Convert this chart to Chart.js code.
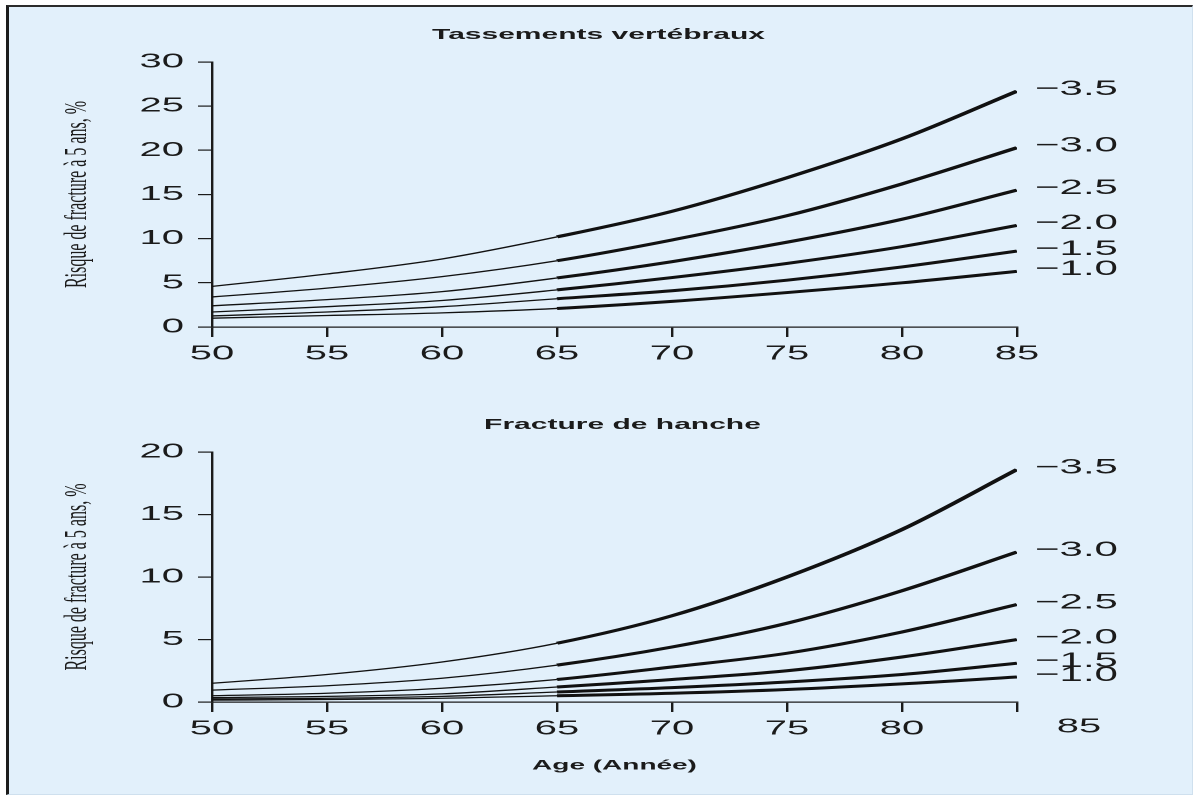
<!DOCTYPE html>
<html lang="fr">
<head>
<meta charset="utf-8">
<title>Risque de fracture à 5 ans</title>
<script src="https://cdn.jsdelivr.net/npm/chart.js@4.4.1/dist/chart.umd.min.js"></script>
<style>
  html, body { margin: 0; padding: 0; background: #fff; }
  body { width: 1198px; height: 799px; position: relative; overflow: hidden; }
  #cadre {
    position: absolute; left: 6px; top: 5px; width: 1187px; height: 790px;
    box-sizing: border-box; background: #e2f0fb;
    border-left: 3px solid #1c1c1c; border-top: 2px solid #2b2b2b;
    border-right: 1px solid #cfe0ee; border-bottom: 1px solid #cfe0ee;
  }
  canvas { position: absolute; left: 0; }
</style>
</head>
<body>
<div id="cadre"></div>
<!-- canvases are half as wide as their box: the drawing is stretched 2x horizontally -->
<canvas id="vertebral" width="599" height="400" style="top:0;width:1198px;height:400px"></canvas>
<canvas id="hanche" width="599" height="399" style="top:400px;width:1198px;height:399px"></canvas>
<script>
const ages = [50, 55, 60, 65, 70, 75, 80, 85];
const tScores = ['−1.0', '−1.5', '−2.0', '−2.5', '−3.0', '−3.5'];

// Tassements vertébraux : risque à 5 ans (%) selon le T-score
const vertT10 = [1.0, 1.3, 1.6, 2.1, 2.9, 3.9, 5.0, 6.3];
const vertT15 = [1.25, 1.7, 2.3, 3.2, 4.1, 5.3, 6.8, 8.6];
const vertT20 = [1.7, 2.3, 3.0, 4.2, 5.6, 7.2, 9.1, 11.5];
const vertT25 = [2.4, 3.1, 4.0, 5.55, 7.4, 9.6, 12.2, 15.5];
const vertT30 = [3.4, 4.4, 5.7, 7.5, 9.85, 12.6, 16.2, 20.3];
const vertT35 = [4.6, 6.0, 7.7, 10.2, 13.1, 16.9, 21.3, 26.7];

// Fracture de hanche : risque à 5 ans (%)
const hipT10 = [0.15, 0.2, 0.3, 0.5, 0.7, 1.0, 1.45, 2.0];
const hipT15 = [0.25, 0.3, 0.45, 0.8, 1.15, 1.6, 2.2, 3.1];
const hipT20 = [0.35, 0.45, 0.65, 1.2, 1.8, 2.5, 3.6, 5.0];
const hipT25 = [0.5, 0.7, 1.1, 1.8, 2.8, 3.9, 5.6, 7.8];
const hipT30 = [0.95, 1.3, 1.9, 2.95, 4.4, 6.3, 8.9, 12.0];
const hipT35 = [1.5, 2.2, 3.2, 4.7, 6.9, 10.0, 13.8, 18.6];

const ink = '#1b1b1b';

function makeDatasets(series) {
  return series.map((vals, i) => ({
    label: tScores[i],
    data: ages.map((a, k) => ({ x: a, y: vals[k] })),
    borderColor: '#111',
    pointRadius: 0,
    cubicInterpolationMode: 'monotone',
    // thin before 65 years, heavy after
    segment: { borderWidth: c => (c.p0.parsed.x >= 65 ? 3 : 1.3) }
  }));
}

// titles, T-score labels at the curve ends, and the shifted last age label
const annotations = {
  id: 'annotations',
  afterDraw(chart, args, opts) {
    const { ctx, chartArea } = chart;
    const xs = chart.scales.x, ys = chart.scales.y;
    ctx.save();
    ctx.fillStyle = ink;
    ctx.textBaseline = 'middle';
    ctx.textAlign = 'center';
    ctx.font = 'bold 15px "Liberation Sans"';
    ctx.fillText(opts.title, (chartArea.left + chartArea.right) / 2 + opts.titleShift, chartArea.top - 27);

    ctx.textAlign = 'left';
    ctx.font = '21px "Liberation Sans"';
    chart.data.datasets.forEach(ds => {
      const last = ds.data[ds.data.length - 1];
      ctx.fillText(ds.label, chartArea.right + 9, ys.getPixelForValue(last.y) - 2);
    });

    if (opts.lastTickShift) {
      ctx.textAlign = 'center';
      ctx.textBaseline = 'top';
      ctx.font = '20px "Liberation Sans"';
      ctx.fillText(String(xs.max), xs.getPixelForValue(xs.max) + opts.lastTickShift, xs.top + 10 + 5);
    }
    ctx.restore();
  }
};

function makeChart(id, series, yMax, opts) {
  const axisLine = { color: ink, width: 1.2 };
  return new Chart(document.getElementById(id), {
    type: 'line',
    data: { datasets: makeDatasets(series) },
    options: {
      responsive: false,
      devicePixelRatio: 2,
      animation: false,
      layout: { padding: { top: opts.top, right: 90.5, left: 0, bottom: 0 } },
      plugins: {
        legend: { display: false },
        tooltip: { enabled: false },
        annotations: { title: opts.title, titleShift: opts.titleShift, lastTickShift: opts.lastTickShift }
      },
      scales: {
        x: {
          type: 'linear', min: 50, max: 85,
          border: axisLine,
          grid: { drawOnChartArea: false, color: ink, lineWidth: 1.2, tickLength: 10 },
          ticks: {
            stepSize: 5, autoSkip: false, maxRotation: 0, padding: 5, color: ink,
            font: { family: 'Liberation Sans', size: 20 },
            callback: v => (opts.lastTickShift && v === 85 ? '' : v)
          },
          title: {
            display: !!opts.xTitle, text: opts.xTitle || '', color: ink,
            font: { family: 'Liberation Sans', size: 14, weight: 'bold' },
            padding: { top: 0, bottom: 25 }
          },
          afterFit: s => { s.height = opts.xHeight; }
        },
        y: {
          min: 0, max: yMax,
          border: axisLine,
          grid: { drawOnChartArea: false, color: ink, lineWidth: 1.2, tickLength: 7 },
          ticks: {
            stepSize: 5, padding: 7, color: ink,
            font: { family: 'Liberation Sans', size: 20 }
          },
          title: {
            display: true, text: 'Risque de fracture à 5 ans, %', color: ink,
            font: { family: 'Liberation Serif', size: 16 },
            padding: { top: 29, bottom: 0 }
          },
          afterFit: s => { s.width = 106; }
        }
      }
    },
    plugins: [annotations]
  });
}

makeChart('vertebral', [vertT10, vertT15, vertT20, vertT25, vertT30, vertT35], 30, {
  top: 62, xHeight: 73, title: 'Tassements vertébraux', titleShift: -8
});
makeChart('hanche', [hipT10, hipT15, hipT20, hipT25, hipT30, hipT35], 20, {
  top: 52, xHeight: 97, title: 'Fracture de hanche', titleShift: 4,
  lastTickShift: 31, xTitle: 'Age (Année)'
});
</script>
</body>
</html>
